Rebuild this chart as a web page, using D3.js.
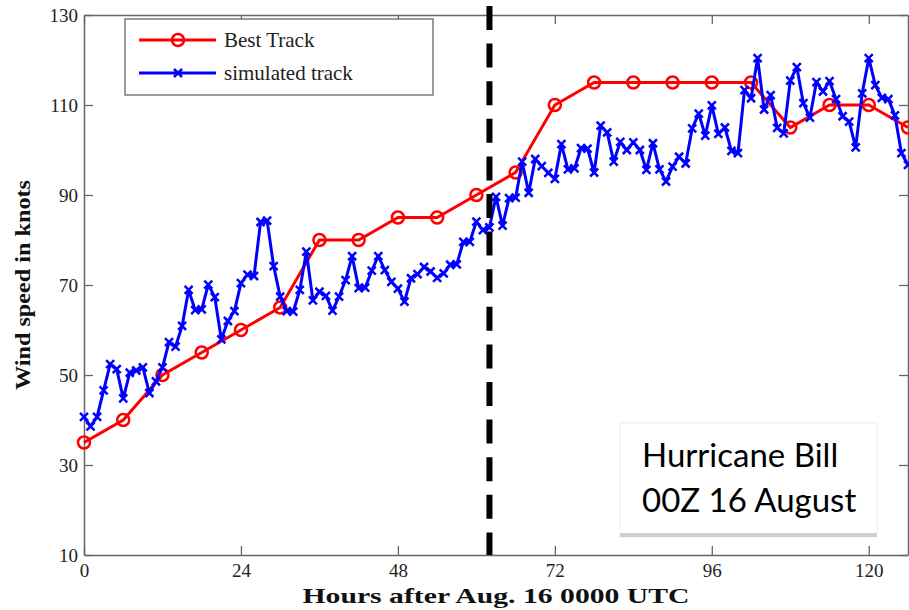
<!DOCTYPE html>
<html>
<head>
<meta charset="utf-8">
<script src="https://cdn.jsdelivr.net/npm/d3@7"></script>
<style>
  body { margin: 0; background: #fff; }
  svg { display: block; }
</style>
</head>
<body>
<div id="chart"></div>
<script>
// best track, every 6 hours
var bestHours = [0, 6, 12, 18, 24, 30, 36, 42, 48, 54, 60, 66, 72, 78, 84, 90, 96, 102, 108, 114, 120, 126];
var bestWind  = [35, 40, 50, 55, 60, 65, 80, 80, 85, 85, 90, 95, 110, 115, 115, 115, 115, 115, 105, 110, 110, 105];

// simulated track, hourly from hour 0 to 126
var simWind = [
  40.7, 38.6, 40.7, 46.6, 52.4, 51.3, 44.8, 50.5, 51, 51.7,
  46, 48.6, 51.7, 57.3, 56.3, 60.9, 68.9, 64.4, 64.6, 70.1,
  67.3, 57.9, 62, 64.2, 70.4, 72.3, 72, 84, 84.3, 74.2,
  67.4, 64.2, 64.1, 68.9, 77.4, 66.6, 68.5, 67.6, 64.3, 67.4,
  71.1, 76.4, 69.3, 69.4, 73.2, 76.4, 73.3, 70.7, 69.2, 66.3,
  71.5, 72.4, 74, 73, 71.6, 72.6, 74.5, 74.6, 79.6, 79.6,
  84.1, 82.2, 82.8, 89.6, 83.2, 89.3, 89.4, 97.4, 90.5, 98,
  96.4, 94.9, 93.6, 101.3, 95.7, 95.9, 100.4, 100.3, 95, 105.4,
  103.9, 97.4, 101.8, 100, 101.7, 100, 95.6, 101.5, 95.7, 93,
  96.3, 98.5, 97, 104.8, 108.1, 103.2, 109.9, 103.6, 105, 99.8,
  99.3, 113.3, 111.5, 120.4, 109, 112.2, 104.9, 103.7, 115.4, 118.4,
  110.4, 107.2, 115.1, 113, 115.3, 111.3, 107.5, 106.3, 100.6, 112.6,
  120.4, 114.4, 111.6, 111.3, 107.7, 99.3, 96.7
];
var simHours = simWind.map(function(d, i) { return i; });

var xTicks = [0, 24, 48, 72, 96, 120];
var yTicks = [10, 30, 50, 70, 90, 110, 130];
var forecastStart = 62;

var seriesNames = ["Best Track", "simulated track"];
var noteLines = ["Hurricane Bill", "00Z 16 August"];

var width = 909, height = 610;
var plotLeft = 84, plotRight = 908, plotTop = 15, plotBottom = 555;

var svg = d3.select("#chart").append("svg")
  .attr("width", width)
  .attr("height", height);

var x = d3.scaleLinear().domain([0, 126]).range([plotLeft, plotRight]);
var y = d3.scaleLinear().domain([10, 130]).range([plotBottom, plotTop]);

var serif = "'Liberation Serif', 'Times New Roman', serif";

// axes, MATLAB style ticks pointing inward on all four sides
function styleAxis(g) {
  g.selectAll("path.domain").attr("stroke", "#666").attr("stroke-width", 1.5);
  g.selectAll(".tick line").attr("stroke", "#666").attr("stroke-width", 1.3);
  g.selectAll(".tick text").attr("fill", "#222")
    .style("font-family", serif).style("font-size", "19px");
}

svg.append("g").attr("transform", "translate(0," + plotBottom + ")")
  .call(d3.axisBottom(x).tickValues(xTicks).tickSizeInner(-9).tickSizeOuter(0).tickPadding(9))
  .call(styleAxis);
svg.append("g").attr("transform", "translate(0," + plotTop + ")")
  .call(d3.axisTop(x).tickValues(xTicks).tickSizeInner(-9).tickSizeOuter(0).tickFormat(""))
  .call(styleAxis);
svg.append("g").attr("transform", "translate(" + plotLeft + ",0)")
  .call(d3.axisLeft(y).tickValues(yTicks).tickSizeInner(-9).tickSizeOuter(0).tickPadding(6))
  .call(styleAxis);
svg.append("g").attr("transform", "translate(" + plotRight + ",0)")
  .call(d3.axisRight(y).tickValues(yTicks).tickSizeInner(-9).tickSizeOuter(0).tickFormat(""))
  .call(styleAxis);

// axis titles
svg.append("text")
  .attr("x", (plotLeft + plotRight) / 2).attr("y", 603)
  .attr("text-anchor", "middle")
  .attr("textLength", 387).attr("lengthAdjust", "spacingAndGlyphs")
  .style("font-family", serif).style("font-size", "21px").style("font-weight", "bold")
  .attr("fill", "#111")
  .text("Hours after Aug. 16 0000 UTC");

svg.append("text")
  .attr("transform", "translate(30," + ((plotTop + plotBottom) / 2) + ") rotate(-90)")
  .attr("text-anchor", "middle")
  .attr("textLength", 210).attr("lengthAdjust", "spacingAndGlyphs")
  .style("font-family", serif).style("font-size", "21px").style("font-weight", "bold")
  .attr("fill", "#111")
  .text("Wind speed in knots");

// series
var bestData = bestHours.map(function(h, i) { return [h, bestWind[i]]; });
var simData = simHours.map(function(h, i) { return [h, simWind[i]]; });

var line = d3.line()
  .x(function(d) { return x(d[0]); })
  .y(function(d) { return y(d[1]); });

var plot = svg.append("g");

// best track first, simulated drawn on top of it
plot.append("path").datum(bestData)
  .attr("d", line).attr("fill", "none")
  .attr("stroke", "#ff0000").attr("stroke-width", 3);

plot.selectAll("circle.best").data(bestData).enter().append("circle")
  .attr("class", "best")
  .attr("cx", function(d) { return x(d[0]); })
  .attr("cy", function(d) { return y(d[1]); })
  .attr("r", 6)
  .attr("fill", "none").attr("stroke", "#ff0000").attr("stroke-width", 2.5);

plot.append("path").datum(simData)
  .attr("d", line).attr("fill", "none")
  .attr("stroke", "#0000ff").attr("stroke-width", 3).attr("stroke-linejoin", "round");

var xMark = "M-4,-4L4,4M-4,4L4,-4";

plot.selectAll("path.sim").data(simData).enter().append("path")
  .attr("class", "sim")
  .attr("d", xMark)
  .attr("transform", function(d) { return "translate(" + x(d[0]) + "," + y(d[1]) + ")"; })
  .attr("stroke", "#0000ff").attr("stroke-width", 2.5).attr("fill", "none");

// vertical dashed line at forecast start
svg.append("line")
  .attr("x1", x(forecastStart)).attr("x2", x(forecastStart))
  .attr("y1", 6).attr("y2", plotBottom)
  .attr("stroke", "#000").attr("stroke-width", 6)
  .attr("stroke-dasharray", "24,13.6");

// legend
var legend = svg.append("g");
legend.append("rect")
  .attr("x", 125).attr("y", 19).attr("width", 308).attr("height", 76)
  .attr("fill", "#fff").attr("stroke", "#666").attr("stroke-width", 1.3);

var legendY = [40, 73];
var legendColors = ["#ff0000", "#0000ff"];
seriesNames.forEach(function(name, i) {
  var ly = legendY[i];
  legend.append("line")
    .attr("x1", 139).attr("x2", 216).attr("y1", ly).attr("y2", ly)
    .attr("stroke", legendColors[i]).attr("stroke-width", 3);
  if (i === 0) {
    legend.append("circle").attr("cx", 178).attr("cy", ly).attr("r", 6)
      .attr("fill", "none").attr("stroke", legendColors[i]).attr("stroke-width", 2.5);
  } else {
    legend.append("path").attr("d", xMark)
      .attr("transform", "translate(178," + ly + ")")
      .attr("stroke", legendColors[i]).attr("stroke-width", 2.5);
  }
  legend.append("text")
    .attr("x", 224).attr("y", ly + 7)
    .style("font-family", serif).style("font-size", "21px")
    .attr("fill", "#222")
    .text(name);
});

// annotation box
var note = svg.append("g");
note.append("rect")
  .attr("x", 620).attr("y", 423).attr("width", 257).attr("height", 114)
  .attr("fill", "#fff").attr("stroke", "#eeeeee").attr("stroke-width", 1);
note.append("rect")
  .attr("x", 620).attr("y", 533).attr("width", 257).attr("height", 4)
  .attr("fill", "#cfcfcf");
noteLines.forEach(function(t, i) {
  note.append("text")
    .attr("x", 642).attr("y", 467 + i * 45)
    .style("font-family", "Lato, 'Open Sans', sans-serif").style("font-size", "33px")
    .attr("fill", "#000")
    .text(t);
});
</script>
</body>
</html>
